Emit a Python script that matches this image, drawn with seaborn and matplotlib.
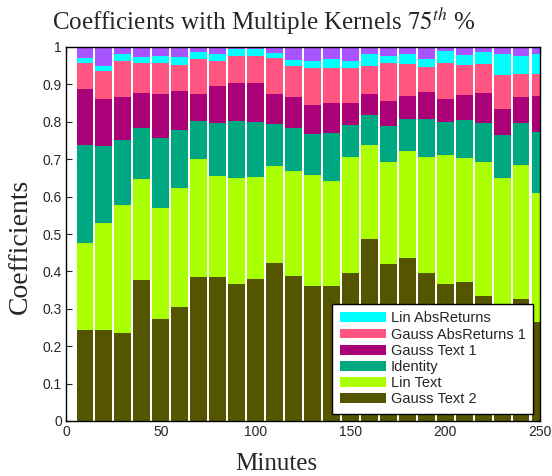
import numpy as np
import pandas as pd
import matplotlib
matplotlib.use("Agg")
import matplotlib.pyplot as plt
import seaborn as sns
from matplotlib.patches import Patch

minutes = [10, 20, 30, 40, 50, 60, 70, 80, 90, 100, 110, 120, 130,
           140, 150, 160, 170, 180, 190, 200, 210, 220, 230, 240, 250]

gauss_text_2 = [.242, .243, .234, .376, .272, .304, .385, .385, .365, .379, .422, .388, .362,
                .362, .397, .487, .419, .437, .395, .365, .371, .334, .300, .326, .266]
lin_text = [.234, .286, .344, .271, .298, .320, .315, .270, .284, .274, .261, .281, .296,
            .280, .308, .250, .274, .284, .310, .346, .332, .359, .351, .358, .344]
identity = [.262, .205, .174, .136, .186, .153, .102, .143, .153, .147, .111, .114, .109,
            .127, .086, .080, .096, .086, .103, .089, .102, .104, .114, .113, .164]
gauss_text_1 = [.151, .126, .113, .094, .118, .105, .072, .098, .102, .103, .080, .082, .077,
                .082, .058, .057, .067, .062, .071, .062, .067, .080, .068, .070, .095]
gauss_absret_1 = [.069, .076, .097, .079, .082, .071, .094, .066, .073, .074, .097, .084, .099,
                  .094, .096, .076, .100, .085, .068, .094, .080, .078, .092, .061, .059]
lin_absret = [.012, .014, .018, .017, .020, .019, .019, .019, .018, .018, .013, .016, .019,
              .022, .018, .030, .020, .026, .021, .034, .027, .032, .056, .049, .052]
unlabeled = [.030, .050, .020, .027, .024, .028, .013, .019, .005, .005, .016, .035, .038,
             .033, .037, .020, .024, .020, .032, .010, .021, .013, .019, .023, .020]

series_names = ["Unlabeled", "Lin AbsReturns", "Gauss AbsReturns 1", "Gauss Text 1",
                "Identity", "Lin Text", "Gauss Text 2"]
series_values = [unlabeled, lin_absret, gauss_absret_1, gauss_text_1,
                 identity, lin_text, gauss_text_2]
colors = ["#A855FF", "#00FFFF", "#FF5580", "#AA0078", "#00A882", "#AAFF00", "#555500"]

rows = []
for name, vals in zip(series_names, series_values):
    for m, v in zip(minutes, vals):
        rows.append({"Minutes": m, "Coefficient": v, "Kernel": name})
df = pd.DataFrame(rows)

sns.set_style("ticks")
plt.rcParams["font.family"] = ["Liberation Sans", "DejaVu Sans"]
plt.rcParams["mathtext.fontset"] = "stix"

fig = plt.figure(figsize=(5.52, 4.76), dpi=100)
ax = fig.add_axes([66 / 552, 55 / 476, 474 / 552, 374 / 476])

sns.histplot(data=df, x="Minutes", weights="Coefficient", hue="Kernel",
             hue_order=series_names, palette=colors, multiple="stack",
             binwidth=10, binrange=(5, 255), shrink=0.89, alpha=1, linewidth=0,
             legend=False, ax=ax)

ax.set_xlim(0, 250)
ax.set_ylim(0, 1)
ax.set_xticks([0, 50, 100, 150, 200, 250])
ax.set_yticks(np.round(np.arange(0, 1.01, 0.1), 1))
ax.set_yticklabels(["0", "0.1", "0.2", "0.3", "0.4", "0.5", "0.6", "0.7", "0.8", "0.9", "1"])
ax.tick_params(direction="in", top=True, right=True, labelsize=10, length=4, width=0.8, pad=3)
for s in ax.spines.values():
    s.set_visible(True)
    s.set_linewidth(1.0)
    s.set_color("black")

serif = ["Liberation Serif", "DejaVu Serif"]
ax.set_title("Coefficients with Multiple Kernels $75^{th}$ %", family=serif, fontsize=18,
             pad=12, x=0.417)
ax.set_xlabel("Minutes", family=serif, fontsize=18)
ax.xaxis.set_label_coords(0.443, -0.086)
ax.set_ylabel("Coefficients", family=serif, fontsize=20)
ax.yaxis.set_label_coords(-0.069, 0.468)

handles = [Patch(facecolor=c, edgecolor="none") for c in colors[1:]]
leg = ax.legend(handles, series_names[1:], loc="lower right", fontsize=10.5,
                frameon=True, fancybox=False, edgecolor="black", framealpha=1,
                handlelength=3.2, handleheight=0.65, labelspacing=0.15,
                borderpad=0.5, handletextpad=0.3, borderaxespad=0.5)
leg.get_frame().set_linewidth(1.0)

fig.savefig("out.png", dpi=100)
